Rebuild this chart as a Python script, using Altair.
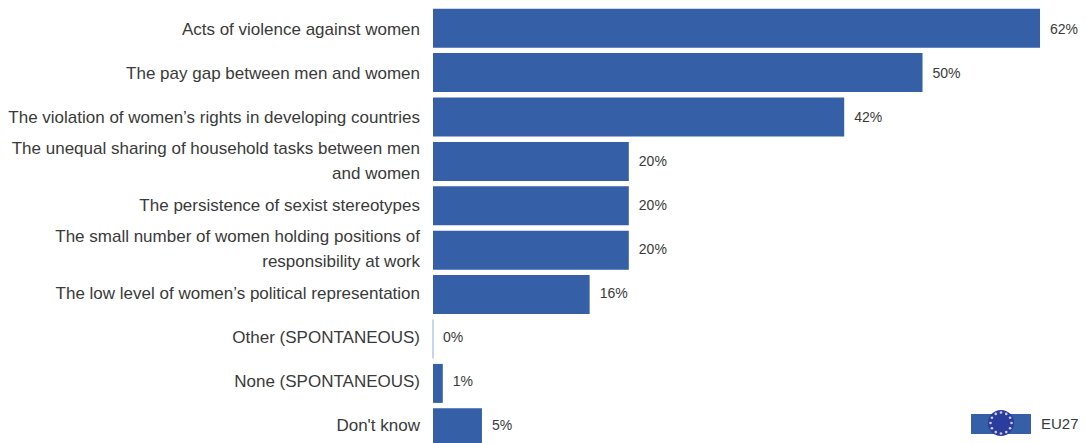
import altair as alt
import pandas as pd

categories = ["Acts of violence against women", "The pay gap between men and women",
              "The violation of women’s rights in developing countries",
              "The unequal sharing of household tasks between men|and women",
              "The persistence of sexist stereotypes",
              "The small number of women holding positions of|responsibility at work",
              "The low level of women’s political representation",
              "Other (SPONTANEOUS)", "None (SPONTANEOUS)", "Don't know"]
values = [62, 50, 42, 20, 20, 20, 16, 0, 1, 5]
labels = ["62%", "50%", "42%", "20%", "20%", "20%", "16%", "0%", "1%", "5%"]
legend_label = ["EU27"]
star_angles = [0, 30, 60, 90, 120, 150, 180, 210, 240, 270, 300, 330]
df = pd.DataFrame({"cat": categories, "v": values, "l": labels})

F = "Liberation Sans"
INK = "#3a3a3a"
BLUE = "#3560a8"
xs = alt.Scale(domain=[-43.41, 65.88], nice=False)
x = alt.X("v:Q", scale=xs, axis=None)
x0 = alt.XDatum(0, scale=xs, axis=None)
y = alt.Y("cat:N", axis=None,
          scale=alt.Scale(domain=categories, paddingInner=0.12, paddingOuter=0.015))
base = alt.Chart(df)
is_two = "indexof(datum.cat, '|') >= 0"
is_one = "indexof(datum.cat, '|') < 0"

bars = base.mark_bar(color=BLUE, size=39).encode(x=x, y=y)
zero = base.transform_filter("datum.v == 0").mark_bar(
    color="#b5c8e6", stroke="#b5c8e6", strokeWidth=1.5, size=39).encode(x=x, y=y)
txt = base.mark_text(align="left", dx=10, font=F, fontSize=14, color=INK).encode(x=x, y=y, text="l:N")
cat1 = base.transform_filter(is_one).mark_text(
    align="right", dx=-13, font=F, fontSize=17, color=INK
).encode(x=x0, y=y, text="cat:N")
cat2 = base.transform_filter(is_two).transform_calculate(t="split(datum.cat, '|')").mark_text(
    align="right", dx=-13, dy=-13, font=F, fontSize=17, lineHeight=25, color=INK
).encode(x=x0, y=y, text="t:N")

key = alt.Chart(pd.DataFrame({"a": [0]}))
rect = key.mark_rect(color=BLUE).encode(
    x=alt.value(963), x2=alt.value(1023), y=alt.value(406), y2=alt.value(426))
globe = key.mark_circle(color="#2c3c9c", size=680, opacity=1).encode(
    x=alt.value(993), y=alt.value(415))
stars = alt.Chart(pd.DataFrame({"a": star_angles})).transform_calculate(
    px="993 + 10.5 * cos(datum.a * PI / 180)", py="415 + 10.5 * sin(datum.a * PI / 180)"
).mark_circle(color="#c9cde0", size=7, opacity=1).encode(
    x=alt.X("px:Q", scale=None, axis=None), y=alt.Y("py:Q", scale=None, axis=None))
eu = alt.Chart(pd.DataFrame({"t": legend_label})).mark_text(
    align="left", font=F, fontSize=15, color=INK
).encode(x=alt.value(1033), y=alt.value(416), text="t:N")

chart = alt.layer(bars, zero, txt, cat1, cat2, rect, globe, stars, eu).resolve_scale(
    x="independent", y="independent"
).properties(
    width=1070, height=440, padding=0,
    autosize=alt.AutoSizeParams(type="none"),
    background="white",
).configure_view(stroke=None)
chart.save("out.html", embed_options={"renderer": "svg", "actions": False})
